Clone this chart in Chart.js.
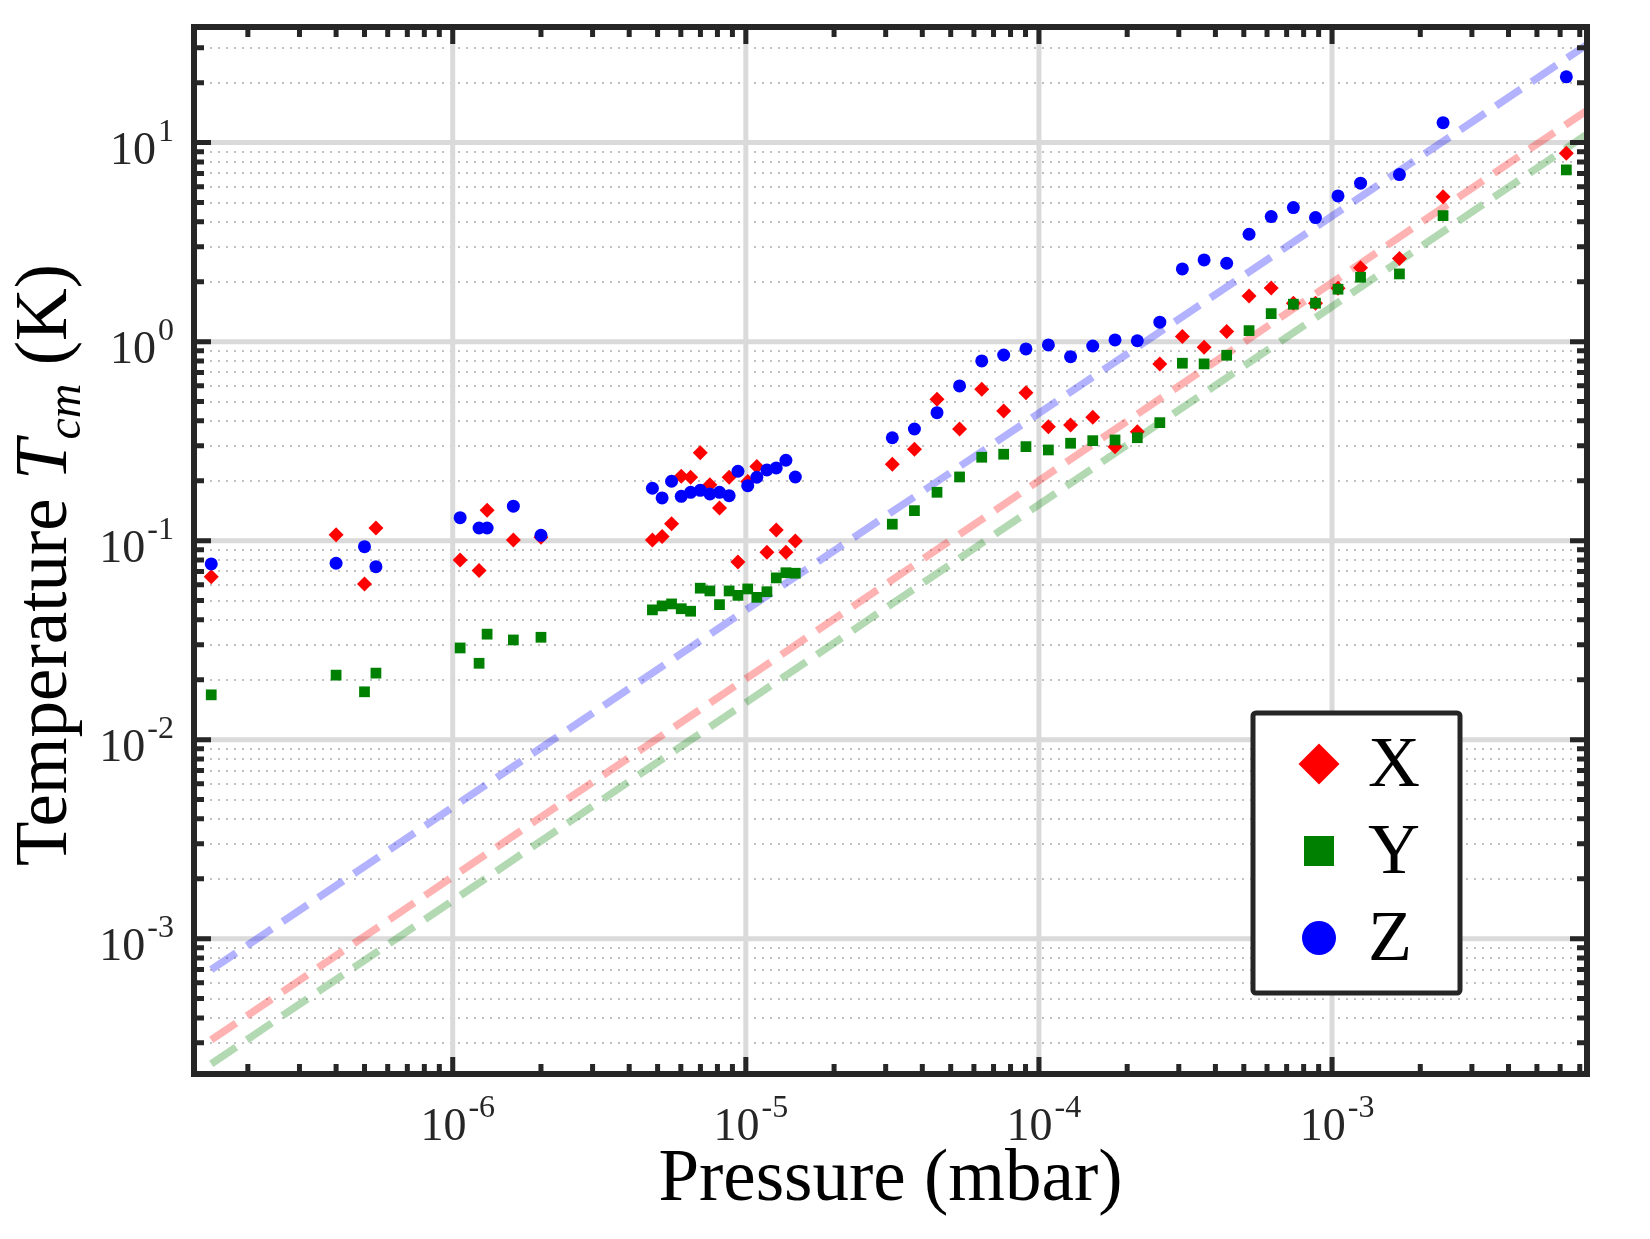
<!DOCTYPE html>
<html>
<head>
<meta charset="utf-8">
<title>Temperature vs pressure</title>
<script src="https://cdn.jsdelivr.net/npm/chart.js@4.4.1/dist/chart.umd.min.js"></script>
<style>
  html, body { margin: 0; padding: 0; background: #fff; }
  #wrap { width: 1650px; height: 1239px; }
</style>
</head>
<body>
<div id="wrap"><canvas id="chart" width="1650" height="1239"></canvas></div>
<script>
// pressure of each measurement (mbar), shared by the three axes
const pressure = [1.5e-7, 4.0e-7, 5.0e-7, 5.47e-7, 1.06e-6, 1.23e-6, 1.31e-6, 1.61e-6, 2.0e-6,
  4.80e-6, 5.18e-6, 5.58e-6, 6.02e-6, 6.48e-6, 6.99e-6, 7.54e-6, 8.13e-6, 8.77e-6, 9.40e-6,
  1.015e-5, 1.09e-5, 1.18e-5, 1.27e-5, 1.37e-5, 1.475e-5,
  3.16e-5, 3.76e-5, 4.49e-5, 5.36e-5, 6.38e-5, 7.58e-5, 9.03e-5, 1.077e-4, 1.282e-4, 1.526e-4,
  1.818e-4, 2.166e-4, 2.585e-4, 3.085e-4, 3.66e-4, 4.37e-4, 5.21e-4, 6.20e-4, 7.38e-4, 8.78e-4,
  1.048e-3, 1.251e-3, 1.698e-3, 2.392e-3, 6.30e-3];

// temperature T_cm (K) per axis
const tempX = [0.0659, 0.107, 0.0606, 0.1158, 0.080, 0.0707, 0.142, 0.1008, 0.104,
  0.1008, 0.1048, 0.1217, 0.2107, 0.2083, 0.2768, 0.1911, 0.146, 0.2083, 0.0781,
  0.198, 0.2355, 0.0874, 0.1132, 0.0874, 0.0997,
  0.242, 0.288, 0.5135, 0.364, 0.5765, 0.4485, 0.5543, 0.374, 0.3815, 0.417,
  0.2968, 0.353, 0.7725, 1.06, 0.937, 1.123, 1.697, 1.861, 1.56, 1.56,
  1.855, 2.354, 2.613, 5.353, 8.845];
const tempY = [0.0168, 0.0211, 0.0174, 0.0216, 0.0289, 0.0242, 0.0339, 0.0317, 0.0327,
  0.0449, 0.047, 0.0481, 0.0455, 0.0442, 0.0577, 0.0559, 0.0477, 0.0559, 0.0531,
  0.0572, 0.0519, 0.0554, 0.065, 0.069, 0.0686,
  0.121, 0.1415, 0.175, 0.209, 0.2625, 0.2718, 0.2968, 0.2856, 0.3086, 0.318,
  0.3206, 0.329, 0.3917, 0.779, 0.773, 0.8543, 1.136, 1.383, 1.542, 1.56,
  1.834, 2.107, 2.189, 4.298, 7.293];
const tempZ = [0.0764, 0.0770, 0.0933, 0.0740, 0.1305, 0.1158, 0.1158, 0.149, 0.1064,
  0.1834, 0.1639, 0.1988, 0.167, 0.175, 0.179, 0.1716, 0.175, 0.1683, 0.2232,
  0.189, 0.2083, 0.2266, 0.2319, 0.2535, 0.2089,
  0.329, 0.364, 0.4397, 0.599, 0.80, 0.857, 0.919, 0.9625, 0.8406, 0.951,
  1.02, 1.01, 1.252, 2.319, 2.574, 2.477, 3.465, 4.248, 4.714, 4.199,
  5.397, 6.252, 6.906, 12.6, 21.4];

// dashed reference lines, read at their two ends
const fitPressure = [1.5e-7, 7.4e-3];
const fitX = [3.1e-4, 14.5];
const fitY = [2.35e-4, 11];
const fitZ = [7.0e-4, 31];

// axis limits and labelled decades
const xRange = [1.31e-7, 7.41e-3];
const yRange = [2.09e-4, 38.1];
const xTickExps = [-6, -5, -4, -3];
const yTickExps = [-3, -2, -1, 0, 1];

const SERIF = '"Liberation Serif", "Times New Roman", serif';
const AXIS = '#262626';

const points = (xs, ys) => xs.map((x, i) => ({ x: x, y: ys[i] }));

// every 1..9 x 10^n value inside the range
function decadeValues(min, max) {
  const vals = [];
  for (let e = Math.floor(Math.log10(min)); e <= Math.ceil(Math.log10(max)); e++) {
    for (let m = 1; m <= 9; m++) {
      const v = m * Math.pow(10, e);
      if (v >= min && v <= max) vals.push({ v: v, major: m === 1 });
    }
  }
  return vals;
}

// draws "10" with a raised exponent
function drawPower(ctx, exp, x, y, align) {
  ctx.font = '46px ' + SERIF;
  const bw = ctx.measureText('10').width;
  ctx.font = '32px ' + SERIF;
  const sup = String(exp);
  const sw = ctx.measureText(sup).width;
  const total = bw + 2 + sw;
  const left = align === 'center' ? x - total / 2 : x - total;
  ctx.textAlign = 'left';
  ctx.textBaseline = 'alphabetic';
  ctx.fillStyle = AXIS;
  ctx.font = '46px ' + SERIF;
  ctx.fillText('10', left, y);
  ctx.font = '32px ' + SERIF;
  ctx.fillText(sup, left + bw + 2, y - 23);
}

function drawMarker(ctx, style, x, y, r, color) {
  ctx.fillStyle = color;
  ctx.beginPath();
  if (style === 'rectRot') {
    ctx.moveTo(x, y - r); ctx.lineTo(x + r, y); ctx.lineTo(x, y + r); ctx.lineTo(x - r, y);
    ctx.closePath();
  } else if (style === 'rect') {
    ctx.rect(x - r, y - r, 2 * r, 2 * r);
  } else {
    ctx.arc(x, y, r, 0, Math.PI * 2);
  }
  ctx.fill();
}

const gridPlugin = {
  id: 'matlabGrid',
  beforeDatasetsDraw(chart) {
    const { ctx, chartArea: a, scales } = chart;
    const xs = scales.x, ys = scales.y;
    ctx.save();
    // minor y grid, dotted
    ctx.strokeStyle = 'rgba(150,150,150,0.6)';
    ctx.lineWidth = 2;
    ctx.setLineDash([2, 6]);
    decadeValues(yRange[0], yRange[1]).forEach(t => {
      if (t.major) return;
      const py = Math.round(ys.getPixelForValue(t.v));
      ctx.beginPath(); ctx.moveTo(a.left, py); ctx.lineTo(a.right, py); ctx.stroke();
    });
    // major grid
    ctx.setLineDash([]);
    ctx.strokeStyle = '#dadada';
    ctx.lineWidth = 5;
    yTickExps.forEach(e => {
      const py = ys.getPixelForValue(Math.pow(10, e));
      ctx.beginPath(); ctx.moveTo(a.left, py); ctx.lineTo(a.right, py); ctx.stroke();
    });
    xTickExps.forEach(e => {
      const px = xs.getPixelForValue(Math.pow(10, e));
      ctx.beginPath(); ctx.moveTo(px, a.top); ctx.lineTo(px, a.bottom); ctx.stroke();
    });
    ctx.restore();
  },
  afterDatasetsDraw(chart) {
    const { ctx, chartArea: a, scales } = chart;
    const xs = scales.x, ys = scales.y;
    ctx.save();

    // ticks on all four sides, pointing inwards
    ctx.strokeStyle = AXIS;
    ctx.lineWidth = 5;
    decadeValues(xRange[0], xRange[1]).forEach(t => {
      const px = xs.getPixelForValue(t.v);
      const len = t.major ? 17 : 10;
      ctx.beginPath();
      ctx.moveTo(px, a.bottom); ctx.lineTo(px, a.bottom - len);
      ctx.moveTo(px, a.top); ctx.lineTo(px, a.top + len);
      ctx.stroke();
    });
    decadeValues(yRange[0], yRange[1]).forEach(t => {
      const py = ys.getPixelForValue(t.v);
      const len = t.major ? 17 : 10;
      ctx.beginPath();
      ctx.moveTo(a.left, py); ctx.lineTo(a.left + len, py);
      ctx.moveTo(a.right, py); ctx.lineTo(a.right - len, py);
      ctx.stroke();
    });

    // axes box
    ctx.lineWidth = 6;
    ctx.strokeRect(a.left, a.top, a.right - a.left, a.bottom - a.top);

    // tick labels
    xTickExps.forEach(e => drawPower(ctx, e, xs.getPixelForValue(Math.pow(10, e)) + 5, a.bottom + 66, 'center'));
    yTickExps.forEach(e => drawPower(ctx, e, a.left - 20, ys.getPixelForValue(Math.pow(10, e)) + 21, 'right'));

    // x title
    ctx.fillStyle = '#000';
    ctx.font = '73px ' + SERIF;
    ctx.textAlign = 'center';
    ctx.textBaseline = 'alphabetic';
    ctx.fillText('Pressure (mbar)', (a.left + a.right) / 2, 1200);

    // y title with italic T and subscript cm
    const parts = [
      { t: 'Temperature ', f: '73px ' + SERIF, dy: 0 },
      { t: 'T', f: 'italic 73px ' + SERIF, dy: 0 },
      { t: 'cm', f: 'italic 48px ' + SERIF, dy: 14 },
      { t: ' (K)', f: '73px ' + SERIF, dy: 0 }
    ];
    let total = 0;
    parts.forEach(p => { ctx.font = p.f; p.w = ctx.measureText(p.t).width; total += p.w; });
    ctx.translate(66, 565);
    ctx.rotate(-Math.PI / 2);
    ctx.textAlign = 'left';
    let cx = -total / 2;
    parts.forEach(p => { ctx.font = p.f; ctx.fillText(p.t, cx, p.dy); cx += p.w; });
    ctx.setTransform(1, 0, 0, 1, 0, 0);

    // legend box
    const box = { l: 1253, t: 713, r: 1460, b: 993 };
    ctx.fillStyle = '#fff';
    ctx.strokeStyle = AXIS;
    ctx.lineWidth = 5;
    ctx.beginPath();
    ctx.roundRect(box.l, box.t, box.r - box.l, box.b - box.t, 3);
    ctx.fill();
    ctx.stroke();
    const rows = [764, 851, 938];
    const sizes = [20.5, 15, 17];
    chart.data.datasets.slice(0, 3).forEach((ds, i) => {
      drawMarker(ctx, ds.pointStyle, 1319, rows[i], sizes[i], ds.backgroundColor);
      ctx.fillStyle = '#000';
      ctx.font = '72px ' + SERIF;
      ctx.textAlign = 'left';
      ctx.textBaseline = 'alphabetic';
      ctx.fillText(ds.label, 1368, rows[i] + 22);
    });
    ctx.restore();
  }
};

new Chart(document.getElementById('chart'), {
  type: 'scatter',
  data: {
    datasets: [
      { label: 'X', data: points(pressure, tempX), pointStyle: 'rectRot', pointRadius: 7.5,
        backgroundColor: '#ff0000', borderWidth: 0, order: 3 },
      { label: 'Y', data: points(pressure, tempY), pointStyle: 'rect', pointRadius: 7.6,
        backgroundColor: '#008000', borderWidth: 0, order: 2 },
      { label: 'Z', data: points(pressure, tempZ), pointStyle: 'circle', pointRadius: 6.5,
        backgroundColor: '#0000ff', borderWidth: 0, order: 1 },
      { label: 'fit X', data: points(fitPressure, fitX), showLine: true, pointRadius: 0,
        borderColor: 'rgba(255,0,0,0.3)', borderWidth: 7.5, borderDash: [30, 13], order: 6 },
      { label: 'fit Y', data: points(fitPressure, fitY), showLine: true, pointRadius: 0,
        borderColor: 'rgba(0,128,0,0.3)', borderWidth: 7.5, borderDash: [30, 13], order: 5 },
      { label: 'fit Z', data: points(fitPressure, fitZ), showLine: true, pointRadius: 0,
        borderColor: 'rgba(0,0,255,0.3)', borderWidth: 7.5, borderDash: [30, 13], order: 4 }
    ]
  },
  options: {
    responsive: false,
    devicePixelRatio: 1,
    animation: false,
    layout: { padding: { left: 194, right: 63, top: 27, bottom: 165 } },
    plugins: { legend: { display: false }, tooltip: { enabled: false } },
    scales: {
      x: { type: 'logarithmic', min: xRange[0], max: xRange[1], display: false },
      y: { type: 'logarithmic', min: yRange[0], max: yRange[1], display: false }
    }
  },
  plugins: [gridPlugin]
});
</script>
</body>
</html>
